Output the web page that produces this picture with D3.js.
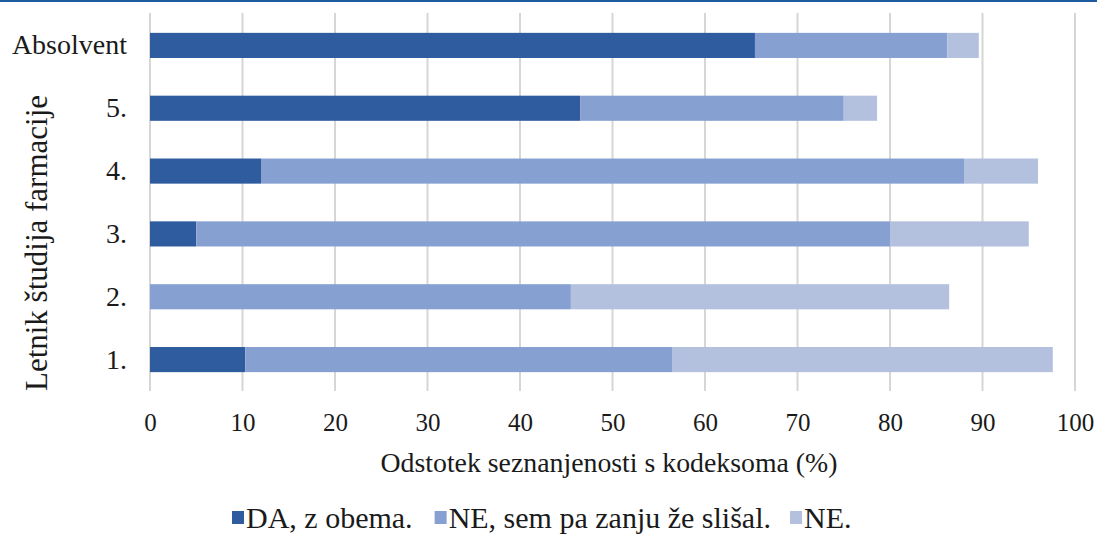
<!DOCTYPE html>
<html><head><meta charset="utf-8">
<script src="https://cdn.jsdelivr.net/npm/d3@7"></script>
<style>body{margin:0;background:#fff}svg{display:block}</style>
</head><body><svg id="c" width="1097" height="536"></svg>
<script>
const categories = ["Absolvent", "5.", "4.", "3.", "2.", "1."];
const seriesNames = ["DA, z obema.", "NE, sem pa zanju že slišal.", "NE."];
const daValues = [65.4, 46.5, 12.0, 5.0, 0, 10.3];
const neSlisalValues = [20.8, 28.5, 76.0, 75.0, 45.5, 46.2];
const neValues = [3.4, 3.6, 8.0, 15.0, 40.9, 41.1];
const xTicks = [0, 10, 20, 30, 40, 50, 60, 70, 80, 90, 100];
const colors = ["#2e5c9e", "#87a0d2", "#b3c0de"];
const FONT = "Liberation Serif, Times New Roman, Tinos, DejaVu Serif, Noto Serif, serif";

const svg = d3.select("#c");
svg.append("rect").attr("x",0).attr("y",0).attr("width",1097).attr("height",2).attr("fill","#1e5aa0");

const x = d3.scaleLinear().domain([0,100]).range([150,1075]);
const y = d3.scaleBand().domain(categories).range([14,391]).paddingInner(0.6).paddingOuter(0.3);

svg.append("g").selectAll("line").data(xTicks).join("line")
  .attr("x1",d=>x(d)).attr("x2",d=>x(d)).attr("y1",13).attr("y2",391)
  .attr("stroke","#d6d6d6").attr("stroke-width",2);

const table = categories.map((c,i)=>({cat:c, vals:[daValues[i], neSlisalValues[i], neValues[i]]}));
const stack = d3.stack().keys([0,1,2]).value((d,k)=>d.vals[k])(table);

svg.append("g").selectAll("g").data(stack).join("g").attr("fill",(d,i)=>colors[i])
  .selectAll("rect").data(d=>d).join("rect")
  .attr("x",d=>x(d[0])).attr("width",d=>x(d[1])-x(d[0]))
  .attr("y",d=>y(d.data.cat)).attr("height",y.bandwidth());

const xa = svg.append("g").attr("transform","translate(0,391)")
  .call(d3.axisBottom(x).tickValues(xTicks).tickSize(0).tickPadding(22));
xa.attr("font-family",FONT).attr("font-size",25);
xa.select(".domain").remove();
xa.selectAll("text").attr("fill","#1a1a1a");

const ya = svg.append("g").attr("transform","translate(150,0)")
  .call(d3.axisLeft(y).tickSize(0).tickPadding(23));
ya.attr("font-family",FONT).attr("font-size",28);
ya.select(".domain").remove();
ya.selectAll("text").attr("fill","#1a1a1a");

svg.append("text").attr("x",609).attr("y",472).attr("text-anchor","middle")
  .attr("font-family",FONT).attr("font-size",27.8).attr("fill","#1a1a1a")
  .text("Odstotek seznanjenosti s kodeksoma (%)");
svg.append("text").attr("transform","translate(47,243) rotate(-90)").attr("text-anchor","middle")
  .attr("font-family",FONT).attr("font-size",31).attr("fill","#1a1a1a")
  .text("Letnik študija farmacije");

const lg = svg.append("g");
let lx = 232;
const gaps = [0, 22, 19];
seriesNames.forEach((n,i)=>{
  lx += gaps[i];
  lg.append("rect").attr("x",lx).attr("y",511).attr("width",12).attr("height",13).attr("fill",colors[i]);
  const t = lg.append("text").attr("x",lx+14).attr("y",528)
    .attr("font-family",FONT).attr("font-size",30).attr("fill","#1a1a1a").text(n);
  lx += 14 + t.node().getComputedTextLength();
});
</script></body></html>
